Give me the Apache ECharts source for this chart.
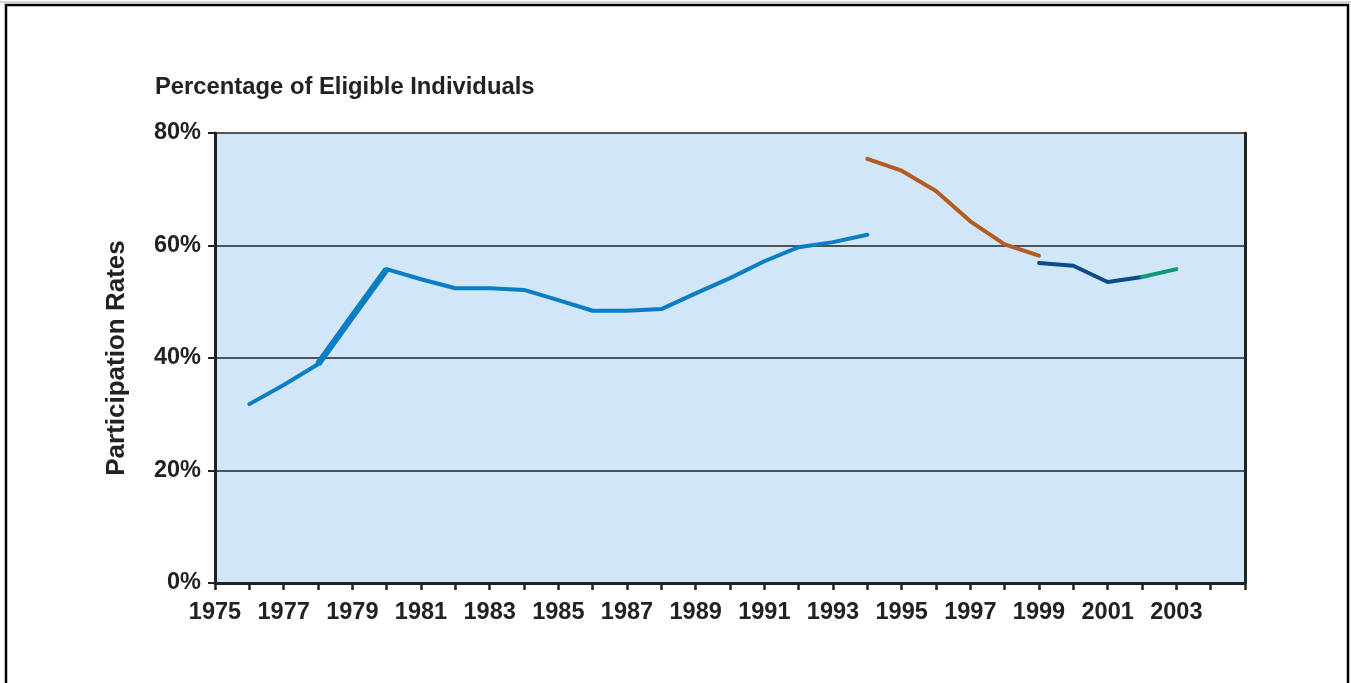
<!DOCTYPE html>
<html>
<head>
<meta charset="utf-8">
<script src="https://cdn.jsdelivr.net/npm/echarts@6/dist/echarts.min.js"></script>
<style>
html,body{margin:0;padding:0;background:#fff;}
#chart{width:1351px;height:683px;}
</style>
</head>
<body>
<div id="chart"></div>
<script>
// Data
const yearsA = [1976,1977,1978,1979,1980,1981,1982,1983,1984,1985,1986,1987,1988,1989,1990,1991,1992,1993,1994];
const valuesA = [31.8,35.2,38.9,47.4,55.8,54.0,52.4,52.4,52.1,50.3,48.4,48.4,48.7,51.5,54.2,57.2,59.7,60.6,61.9];
const yearsThick = [1978,1979,1980];
const valuesThick = [38.9,47.4,55.8];
const yearsB = [1994,1995,1996,1997,1998,1999];
const valuesB = [75.4,73.3,69.7,64.3,60.2,58.2];
const yearsC = [1999,2000,2001,2002];
const valuesC = [56.9,56.4,53.5,54.4];
const yearsD = [2002,2003];
const valuesD = [54.4,55.8];
const titleText = 'Percentage of Eligible Individuals';
const yAxisName = 'Participation Rates';

const pairs = (xs, ys) => xs.map((x, i) => [x, ys[i]]);
const FONT = '"Liberation Sans", Arial, sans-serif';

const chart = echarts.init(document.getElementById('chart'));
const lineSeries = (data, color, width, cap) => ({
  type: 'line', data, showSymbol: false, symbol: 'none',
  lineStyle: { color, width, cap: cap || 'round', join: 'round' },
  animation: false, z: 3
});

chart.setOption({
  animation: false,
  backgroundColor: '#ffffff',
  title: {
    text: titleText, left: 150, top: 70,
    textStyle: { fontFamily: FONT, fontSize: 23.8, fontWeight: 'bold', color: '#222' }
  },
  graphic: [
    { type: 'rect', shape: { x: 6, y: 5, width: 1342, height: 700 },
      style: { fill: null, stroke: '#000', lineWidth: 2.5 }, z: -1 },
    { type: 'line', shape: { x1: 0, y1: 2, x2: 1351, y2: 2 }, style: { stroke: '#aaa', lineWidth: 1 } }
  ],
  grid: { left: 215, right: 106, top: 133, bottom: 100, show: true, backgroundColor: '#D1E6F6', borderWidth: 0 },
  xAxis: {
    type: 'value', min: 1975, max: 2005, interval: 1,
    axisLine: { show: true, lineStyle: { color: '#222', width: 3 } },
    axisTick: { show: true, inside: false, length: 7, lineStyle: { color: '#222', width: 2.5 } },
    splitLine: { show: false },
    axisLabel: {
      margin: 18, fontFamily: FONT, fontSize: 23.5, fontWeight: 'bold', color: '#222',
      formatter: v => (v % 2 === 1 && v < 2005) ? String(v) : '',
      showMinLabel: true, showMaxLabel: true, hideOverlap: false
    }
  },
  yAxis: [{
    type: 'value', min: 0, max: 80, interval: 20,
    name: yAxisName, nameLocation: 'middle', nameGap: 85,
    nameTextStyle: { fontFamily: FONT, fontSize: 26, fontWeight: 'bold', color: '#222' },
    axisLine: { show: true, lineStyle: { color: '#222', width: 3 } },
    axisTick: { show: true, inside: false, length: 7, lineStyle: { color: '#222', width: 2 } },
    splitLine: { show: true, lineStyle: { color: '#222', width: 1.5 } },
    axisLabel: { margin: 14, fontFamily: FONT, fontSize: 23.5, fontWeight: 'bold', color: '#222',
      formatter: v => v + '%' }
  }, {
    type: 'value', min: 0, max: 80, interval: 20, position: 'right',
    axisLine: { show: true, lineStyle: { color: '#222', width: 3 } },
    axisTick: { show: false }, axisLabel: { show: false }, splitLine: { show: false }
  }],
  series: [
    lineSeries(pairs(yearsA, valuesA), '#0A7DC4', 4),
    lineSeries(pairs(yearsThick, valuesThick), '#0A7DC4', 6.5, 'butt'),
    lineSeries(pairs(yearsB, valuesB), '#B55A22', 4),
    lineSeries(pairs(yearsC, valuesC), '#0A4C8A', 4),
    lineSeries(pairs(yearsD, valuesD), '#0E9A78', 4)
  ]
});
</script>
</body>
</html>
